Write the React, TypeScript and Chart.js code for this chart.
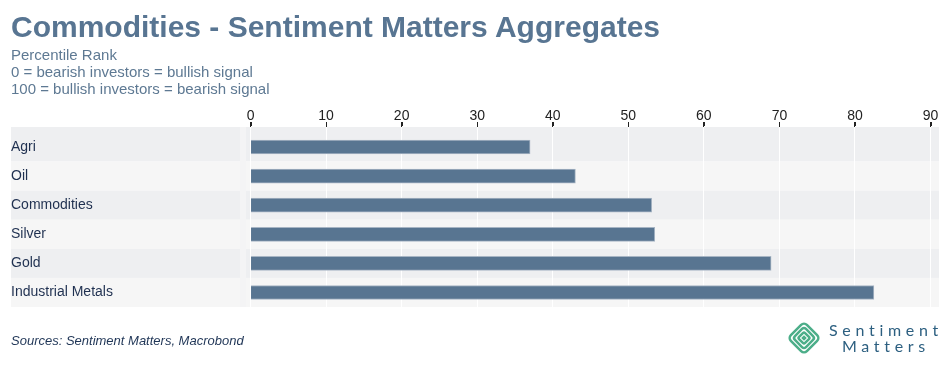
import React, { useEffect, useRef } from 'react';
import { Chart, registerables } from 'chart.js';

Chart.register(...registerables);

const TITLE = 'Commodities - Sentiment Matters Aggregates';
const SUBTITLE_LINES = [
  'Percentile Rank',
  '0 = bearish investors = bullish signal',
  '100 = bullish investors = bearish signal',
];
const SOURCE = 'Sources: Sentiment Matters, Macrobond';
const LOGO_LINES = ['Sentiment', 'Matters'];

const categories = ['Agri', 'Oil', 'Commodities', 'Silver', 'Gold', 'Industrial Metals'];
const percentileRank = [37.0, 43.0, 53.1, 53.5, 68.9, 82.5];
const xTickValues = [0, 10, 20, 30, 40, 50, 60, 70, 80, 90];

const FONT = "'Liberation Sans', Arial, Helvetica, sans-serif";

const bandsPlugin = {
  id: 'bands',
  beforeDraw(chart: any) {
    const { ctx, chartArea, scales } = chart;
    const y = scales.y;
    const labelLeft = 11;
    const labelRight = 240;
    ctx.save();
    ctx.fillStyle = '#f4f4f5';
    ctx.fillRect(labelRight, chartArea.top, chartArea.left - labelRight, chartArea.bottom - chartArea.top);
    const last = categories.length - 1;
    categories.forEach((_, i) => {
      const a = y.getPixelForValue(i - 0.5);
      const b = y.getPixelForValue(i + 0.5);
      let y0 = Math.min(a, b);
      let y1 = Math.max(a, b);
      if (i === 0) y0 = chartArea.top;
      if (i === last) y1 = chartArea.bottom;
      ctx.fillStyle = i % 2 === 0 ? '#eeeff1' : '#f6f6f6';
      ctx.fillRect(labelLeft, y0, labelRight - labelLeft, y1 - y0);
      ctx.fillRect(chartArea.left, y0, chartArea.right - chartArea.left, y1 - y0);
    });
    ctx.restore();
  },
  afterDraw(chart: any) {
    const { ctx, chartArea, scales } = chart;
    const x = scales.x;
    ctx.save();
    ctx.strokeStyle = '#222222';
    ctx.lineWidth = 1;
    ctx.beginPath();
    x.ticks.forEach((t: any) => {
      const px = Math.round(x.getPixelForValue(t.value)) + 0.5;
      ctx.moveTo(px, chartArea.top - 5);
      ctx.lineTo(px, chartArea.top - 1);
    });
    ctx.stroke();
    ctx.restore();
  },
};

function Logo() {
  const rings = [32, 22, 12];
  return (
    <div style={{ position: 'absolute', left: 786, top: 318, width: 160, height: 40 }}>
      <svg width={38} height={38} style={{ position: 'absolute', left: 0, top: 2 }} viewBox="0 0 38 38">
        {rings.map((w, i) => {
          const s = w / Math.SQRT2;
          return (
            <rect
              key={i}
              x={18 - s / 2}
              y={18 - s / 2}
              width={s}
              height={s}
              rx={s * 0.18}
              fill="none"
              stroke="#4cae89"
              strokeWidth={2.5}
              transform="rotate(45 18 18)"
            />
          );
        })}
        <rect x={18 - 2} y={18 - 2} width={4} height={4} fill="#4cae89" transform="rotate(45 18 18)" />
      </svg>
      <div
        style={{
          position: 'absolute',
          left: 43,
          top: 4,
          fontFamily: 'Lato, sans-serif',
          fontSize: 16,
          lineHeight: '16px',
          letterSpacing: 4.7,
          color: '#2c5f80',
          whiteSpace: 'nowrap',
        }}
      >
        {LOGO_LINES[0]}
      </div>
      <div
        style={{
          position: 'absolute',
          left: 56,
          top: 20,
          fontFamily: 'Lato, sans-serif',
          fontSize: 16,
          lineHeight: '16px',
          letterSpacing: 4.7,
          color: '#2c5f80',
          whiteSpace: 'nowrap',
        }}
      >
        {LOGO_LINES[1]}
      </div>
    </div>
  );
}

export default function App() {
  const canvasRef = useRef<HTMLCanvasElement | null>(null);

  useEffect(() => {
    const canvas = canvasRef.current;
    if (!canvas) return;
    const chart = new Chart(canvas, {
      type: 'bar',
      data: {
        datasets: [
          {
            data: categories.map((_, i) => ({ x: percentileRank[i], y: i })),
            backgroundColor: '#587591',
            borderColor: '#a7b5c4',
            borderWidth: 1,
            barThickness: 14,
          } as any,
        ],
      },
      options: {
        indexAxis: 'y',
        animation: false,
        responsive: false,
        maintainAspectRatio: false,
        devicePixelRatio: 1,
        layout: { padding: { left: 11, right: 11, top: 0, bottom: 58 } },
        plugins: {
          legend: { display: false },
          tooltip: { enabled: false },
        },
        scales: {
          x: {
            type: 'linear',
            position: 'top',
            offset: false,
            min: -0.6,
            max: 91.12,
            afterBuildTicks: (s: any) => {
              s.ticks = xTickValues.map((v) => ({ value: v }));
            },
            afterFit: (s: any) => {
              s.height = 127;
            },
            grid: {
              offset: false,
              color: '#ffffff',
              lineWidth: 1,
              tickColor: '#222222',
              tickWidth: 1,
              tickLength: 5,
              drawTicks: true,
            },
            border: { display: false },
            ticks: {
              color: '#222222',
              font: { family: FONT, size: 14 },
              padding: -3,
              maxRotation: 0,
              autoSkip: false,
            },
          },
          y: {
            type: 'linear',
            reverse: true,
            offset: false,
            min: -0.687,
            max: 5.498,
            afterBuildTicks: (s: any) => {
              s.ticks = categories.map((_, i) => ({ value: i }));
            },
            afterFit: (s: any) => {
              s.width = 235;
            },
            grid: { display: false, offset: false },
            border: { display: false },
            ticks: {
              crossAlign: 'far',
              color: '#1f3050',
              font: { family: FONT, size: 14 },
              autoSkip: false,
              callback: (v: any) => categories[v as number] ?? '',
            },
          },
        },
      } as any,
      plugins: [bandsPlugin],
    });
    return () => chart.destroy();
  }, []);

  return (
    <div
      style={{
        position: 'absolute',
        left: 0,
        top: 0,
        width: 950,
        height: 365,
        background: '#ffffff',
        overflow: 'hidden',
        fontFamily: FONT,
      }}
    >
      <canvas ref={canvasRef} width={950} height={365} style={{ position: 'absolute', left: 0, top: 0, width: 950, height: 365 }} />
      <div
        style={{
          position: 'absolute',
          left: 11,
          top: 9.6,
          fontSize: 30,
          lineHeight: '34px',
          fontWeight: 700,
          color: '#587592',
          whiteSpace: 'nowrap',
        }}
      >
        {TITLE}
      </div>
      <div
        style={{
          position: 'absolute',
          left: 11,
          top: 46.3,
          fontSize: 15,
          lineHeight: '17px',
          color: '#5e7993',
          whiteSpace: 'nowrap',
        }}
      >
        {SUBTITLE_LINES.map((l, i) => (
          <div key={i}>{l}</div>
        ))}
      </div>
      <div
        style={{
          position: 'absolute',
          left: 11,
          top: 332.5,
          fontSize: 13,
          lineHeight: '16px',
          fontStyle: 'italic',
          color: '#1f3556',
          whiteSpace: 'nowrap',
        }}
      >
        {SOURCE}
      </div>
      <Logo />
    </div>
  );
}
